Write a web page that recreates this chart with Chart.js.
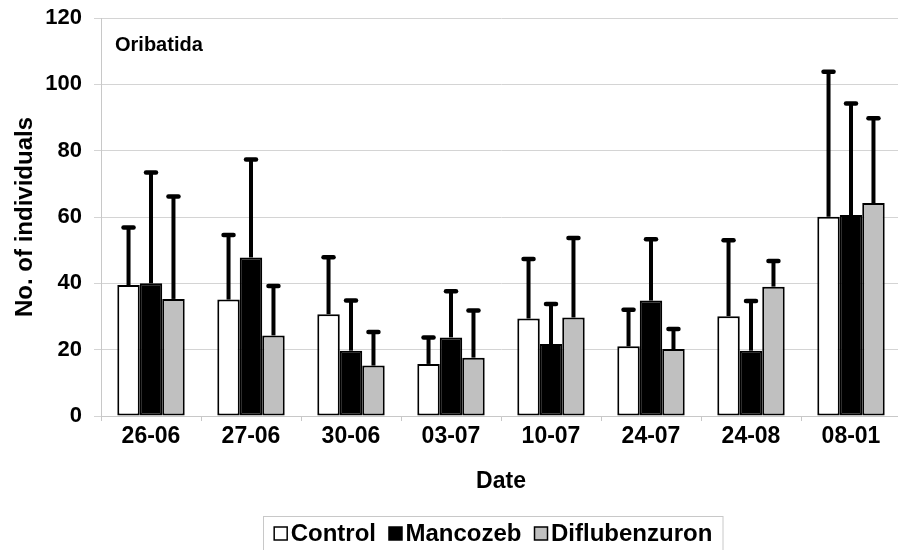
<!DOCTYPE html>
<html><head><meta charset="utf-8">
<script src="https://cdn.jsdelivr.net/npm/chart.js@4/dist/chart.umd.min.js"></script>
<style>html,body{margin:0;padding:0;overflow:hidden;background:#fff}#wrap{width:902px;height:550px;position:relative}</style>
</head><body><div id="wrap"><canvas id="c" width="902" height="550"></canvas></div>
<script>
const categories = ['26-06','27-06','30-06','03-07','10-07','24-07','24-08','08-01'];
const seriesNames = ['Control','Mancozeb','Diflubenzuron'];
const controlMean = [39.5, 35.1, 30.7, 15.7, 29.4, 21.0, 30.1, 60.1];
const controlSD   = [17.3, 19.5, 17.2,  8.0, 17.9, 11.0, 22.9, 43.7];
const mancozebMean = [40.0, 47.8, 19.7, 23.7, 21.7, 34.8, 19.7, 60.6];
const mancozebSD   = [33.4, 29.5, 15.1, 13.9, 12.1, 18.5, 15.0, 33.6];
const diflubenzuronMean = [35.3, 24.3, 15.2, 17.6, 29.7, 20.2, 39.0, 64.2];
const diflubenzuronSD   = [30.9, 14.9, 10.1, 14.2, 24.0,  6.0,  7.7, 25.6];
const yTicks = [0, 20, 40, 60, 80, 100, 120];
const panelLabel = 'Oribatida';
const xTitle = 'Date';
const yTitle = 'No. of individuals';

const FONT = '"Liberation Sans", Arial, sans-serif';
const fills = ['#ffffff', '#000000', '#c0c0c0'];

const errorBars = {
  id: 'errorBars',
  afterDatasetsDraw(chart) {
    const ctx = chart.ctx, y = chart.scales.y;
    chart.data.datasets.forEach((ds, i) => {
      const meta = chart.getDatasetMeta(i);
      meta.data.forEach((bar, j) => {
        const top = y.getPixelForValue(ds.data[j] + ds.sd[j]);
        ctx.save();
        ctx.strokeStyle = '#000';
        ctx.lineWidth = 4;
        ctx.beginPath(); ctx.moveTo(bar.x, bar.y); ctx.lineTo(bar.x, top); ctx.stroke();
        ctx.lineCap = 'round'; ctx.lineWidth = 4.5;
        ctx.beginPath(); ctx.moveTo(bar.x - 5, top); ctx.lineTo(bar.x + 5, top); ctx.stroke();
        ctx.restore();
      });
    });
  }
};

const extras = {
  id: 'extras',
  afterDraw(chart) {
    const ctx = chart.ctx;
    ctx.save();
    ctx.fillStyle = '#000';
    ctx.font = 'bold 20px ' + FONT;
    ctx.textBaseline = 'middle'; ctx.textAlign = 'left';
    ctx.fillText(panelLabel, 115, 45);
    // legend
    const boxL = 263.5, boxR = 723, boxT = 516.5;
    ctx.strokeStyle = '#c8c8c8'; ctx.lineWidth = 1;
    ctx.strokeRect(boxL, boxT, boxR - boxL, 60);
    ctx.font = 'bold 24px ' + FONT;
    const items = chart.data.datasets.map(d => ({label: d.label, color: d.backgroundColor, w: ctx.measureText(d.label).width}));
    const sq = 13, g1 = 3.5, g2 = 13;
    let total = 0;
    items.forEach((it, k) => { total += sq + g1 + it.w + (k < items.length - 1 ? g2 : 0); });
    let x = (boxL + boxR) / 2 - total / 2;
    const cy = 533.5;
    items.forEach(it => {
      ctx.fillStyle = it.color;
      ctx.fillRect(x, cy - sq / 2, sq, sq);
      ctx.strokeStyle = '#000'; ctx.lineWidth = 1.5;
      ctx.strokeRect(x, cy - sq / 2, sq, sq);
      x += sq + g1;
      ctx.fillStyle = '#000';
      ctx.fillText(it.label, x, cy + 1);
      x += it.w + g2;
    });
    ctx.restore();
  }
};

new Chart(document.getElementById('c'), {
  type: 'bar',
  data: {
    labels: categories,
    datasets: [
      {label: seriesNames[0], data: controlMean, sd: controlSD, backgroundColor: fills[0]},
      {label: seriesNames[1], data: mancozebMean, sd: mancozebSD, backgroundColor: fills[1]},
      {label: seriesNames[2], data: diflubenzuronMean, sd: diflubenzuronSD, backgroundColor: fills[2]}
    ].map(d => Object.assign(d, {borderColor: '#000', borderWidth: 2, borderSkipped: false, categoryPercentage: 0.674, barPercentage: 1.0}))
  },
  options: {
    responsive: false,
    animation: false,
    devicePixelRatio: 1,
    layout: {padding: {top: 18, right: 1, left: 0, bottom: 0}},
    plugins: {legend: {display: false}, tooltip: {enabled: false}},
    scales: {
      x: {
        grid: {display: true, drawOnChartArea: false, drawTicks: true, tickLength: 5, color: '#c8c8c8', offset: true},
        border: {color: '#c8c8c8'},
        ticks: {font: {family: FONT, size: 23, weight: 'bold'}, color: '#000', padding: 2, maxRotation: 0, autoSkip: false},
        title: {display: true, text: xTitle, color: '#000', font: {family: FONT, size: 23, weight: 'bold'}, padding: {top: 0, bottom: 55}},
        afterFit(s) { s.height = 134; s.paddingLeft = 0; s.paddingRight = 0; }
      },
      y: {
        min: 0, max: 120,
        afterBuildTicks(s) { s.ticks = yTicks.map(v => ({value: v})); },
        grid: {color: '#d4d4d4', tickLength: 7},
        border: {color: '#c8c8c8'},
        ticks: {font: {family: FONT, size: 22, weight: 'bold'}, color: '#000', padding: 12},
        title: {display: true, text: yTitle, color: '#000', font: {family: FONT, size: 24, weight: 'bold'}, padding: {top: 11, bottom: 0}},
        afterFit(s) { s.width = 101; s.paddingTop = 0; s.paddingBottom = 0; }
      }
    }
  },
  plugins: [errorBars, extras]
});
</script>
</body></html>
